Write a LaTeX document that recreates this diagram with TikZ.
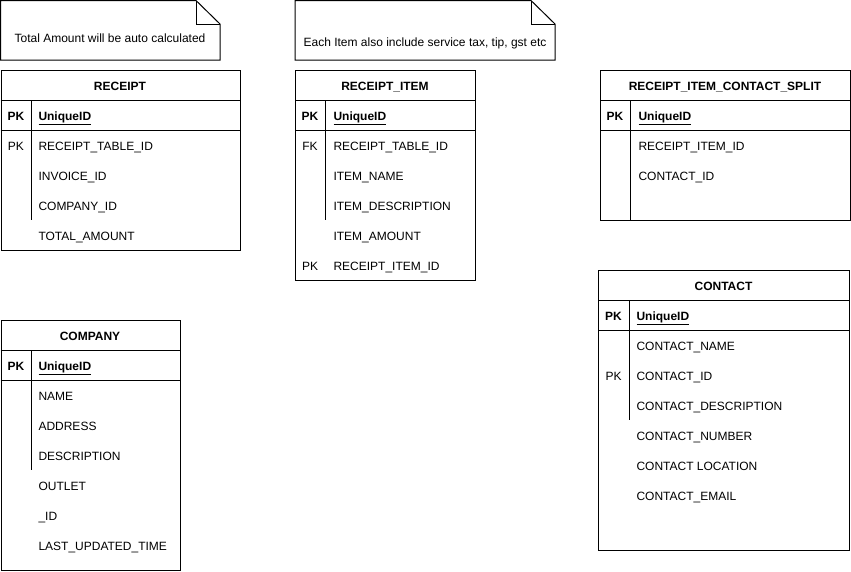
\documentclass[tikz,border=0pt]{standalone}
\usepackage{fontspec}
\setmainfont{Liberation Sans}
\begin{document}
\begin{tikzpicture}[x=1pt,y=-1pt,line width=1pt,
  frame/.style={draw, inner sep=0pt, anchor=north west},
  sheet/.style={draw, line join=miter},
  txt/.style={inner sep=0pt, font=\fontsize{12}{14}\selectfont},
  title/.style={txt, anchor=base, font=\fontsize{12}{14}\selectfont\bfseries},
  field/.style={txt, anchor=base west},
  keylbl/.style={txt, anchor=base},
  pkfield/.style={field, font=\fontsize{12}{14}\selectfont\bfseries},
  pklbl/.style={keylbl, font=\fontsize{12}{14}\selectfont\bfseries},
  notetext/.style={txt, anchor=base}]
\useasboundingbox (0,0) rectangle (851,571);

% ---- notes with folded corner ----
\draw[sheet] (0.5,0.5) -- (196,0.5) -- (220,24) -- (220,60) -- (0.5,60) -- cycle;
\draw (196,0.5) -- (196,24) -- (220,24);
\node[notetext] (note1) at (110,42.5) {Total Amount will be auto calculated};

\draw[sheet] (295,0.5) -- (531,0.5) -- (555,24) -- (555,60) -- (295,60) -- cycle;
\draw (531,0.5) -- (531,24) -- (555,24);
\node[notetext] (note2) at (425,46) {Each Item also include service tax, tip, gst etc};

% ---- RECEIPT ----
\node[frame, minimum width=239.5pt, minimum height=180pt] (receipt) at (0.5,70) {};
\node[title] (receipt-t) at (120,90.5) {RECEIPT};
\draw (0.5,100) -- (240,100);
\draw (0.5,130) -- (240,130);
\draw (31,100) -- (31,220);
\node[pklbl] (receipt-k0) at (16,120.5) {PK};
\node[pkfield] (receipt-f0) at (38,120.5) {\underline{UniqueID}};
\foreach \t [count=\i] in {RECEIPT\_TABLE\_ID, INVOICE\_ID, COMPANY\_ID, TOTAL\_AMOUNT}
  \node[field] (receipt-f\i) at (38,120.5+30*\i) {\t};
\node[keylbl] (receipt-k1) at (16,150.5) {PK};

% ---- RECEIPT_ITEM ----
\node[frame, minimum width=180pt, minimum height=210pt] (item) at (295,70) {};
\node[title] (item-t) at (385,90.5) {RECEIPT\_ITEM};
\draw (295,100) -- (475,100);
\draw (295,130) -- (475,130);
\draw (325,100) -- (325,220);
\node[pklbl] (item-k0) at (310,120.5) {PK};
\node[pkfield] (item-f0) at (333,120.5) {\underline{UniqueID}};
\foreach \t [count=\i] in {RECEIPT\_TABLE\_ID, ITEM\_NAME, ITEM\_DESCRIPTION, ITEM\_AMOUNT, RECEIPT\_ITEM\_ID}
  \node[field] (item-f\i) at (333,120.5+30*\i) {\t};
\node[keylbl] (item-k1) at (310,150.5) {FK};
\node[keylbl] (item-k5) at (310,270.5) {PK};

% ---- RECEIPT_ITEM_CONTACT_SPLIT ----
\node[frame, minimum width=250pt, minimum height=150pt] (split) at (600,70) {};
\node[title] (split-t) at (725,90.5) {RECEIPT\_ITEM\_CONTACT\_SPLIT};
\draw (600,100) -- (850,100);
\draw (600,130) -- (850,130);
\draw (630,100) -- (630,220);
\node[pklbl] (split-k0) at (615,120.5) {PK};
\node[pkfield] (split-f0) at (638,120.5) {\underline{UniqueID}};
\foreach \t [count=\i] in {RECEIPT\_ITEM\_ID, CONTACT\_ID}
  \node[field] (split-f\i) at (638,120.5+30*\i) {\t};

% ---- COMPANY ----
\node[frame, minimum width=179.5pt, minimum height=250pt] (company) at (0.5,320) {};
\node[title] (company-t) at (90,340.5) {COMPANY};
\draw (0.5,350) -- (180,350);
\draw (0.5,380) -- (180,380);
\draw (31,350) -- (31,470);
\node[pklbl] (company-k0) at (16,370.5) {PK};
\node[pkfield] (company-f0) at (38,370.5) {\underline{UniqueID}};
\foreach \t [count=\i] in {NAME, ADDRESS, DESCRIPTION, OUTLET, \_ID, LAST\_UPDATED\_TIME}
  \node[field] (company-f\i) at (38,370.5+30*\i) {\t};

% ---- CONTACT ----
\node[frame, minimum width=251pt, minimum height=280pt] (contact) at (598,270) {};
\node[title] (contact-t) at (723.5,290.5) {CONTACT};
\draw (598,300) -- (849,300);
\draw (598,330) -- (849,330);
\draw (629,300) -- (629,420);
\node[pklbl] (contact-k0) at (613.5,320.5) {PK};
\node[pkfield] (contact-f0) at (636,320.5) {\underline{UniqueID}};
\foreach \t [count=\i] in {CONTACT\_NAME, CONTACT\_ID, CONTACT\_DESCRIPTION, CONTACT\_NUMBER, CONTACT LOCATION, CONTACT\_EMAIL}
  \node[field] (contact-f\i) at (636,320.5+30*\i) {\t};
\node[keylbl] (contact-k2) at (613.5,380.5) {PK};
\end{tikzpicture}
\end{document}
